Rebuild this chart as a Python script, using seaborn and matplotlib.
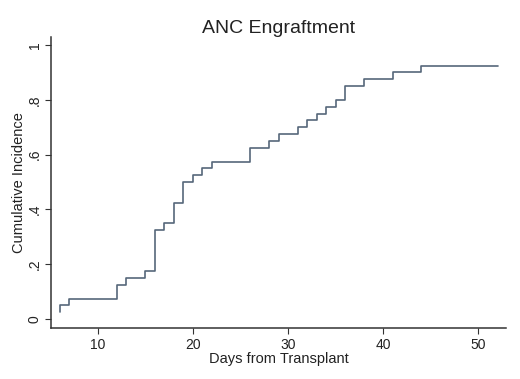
import pandas as pd
import matplotlib
matplotlib.use("Agg")
import matplotlib.pyplot as plt
import seaborn as sns

# --- DATA ---
days = [6, 6, 7, 12, 13, 15, 16, 17, 18, 19, 20, 21, 22, 26, 28, 29, 31,
        32, 33, 34, 35, 36, 38, 41, 44, 52]
cum_inc = [0.025, 0.05, 0.075, 0.125, 0.15, 0.175, 0.325, 0.35, 0.425, 0.5,
           0.525, 0.55, 0.575, 0.625, 0.65, 0.675, 0.70, 0.725, 0.75, 0.775,
           0.80, 0.85, 0.875, 0.90, 0.925, 0.925]
x_ticks = [10, 20, 30, 40, 50]
y_ticks = [0, 0.2, 0.4, 0.6, 0.8, 1.0]
y_tick_labels = ["0", ".2", ".4", ".6", ".8", "1"]

df = pd.DataFrame({"days": days, "ci": cum_inc})

sns.set_style("white")
plt.rcParams["font.family"] = ["Liberation Sans", "DejaVu Sans"]

fig = plt.figure(figsize=(5.2, 3.79), dpi=100)
ax = fig.add_axes([0.099, 0.135, 0.875, 0.767])

sns.lineplot(data=df, x="days", y="ci", estimator=None, sort=False,
             drawstyle="steps-post", color="#56677a", linewidth=1.2, ax=ax)

ax.set_xlim(5.14, 52.94)
ax.set_ylim(-0.032, 1.029)
ax.set_xticks(x_ticks)
ax.set_yticks(y_ticks)
ax.set_yticklabels(y_tick_labels, rotation=90, va="center")

ax.set_title("ANC Engraftment", fontsize=14, color="#222222", pad=3)
ax.set_xlabel("Days from Transplant", fontsize=10.5, color="#222222", labelpad=0)
ax.set_ylabel("Cumulative Incidence", fontsize=10.5, color="#222222", labelpad=1)

for side in ["top", "right"]:
    ax.spines[side].set_visible(False)
for side in ["left", "bottom"]:
    ax.spines[side].set_color("#333333")
    ax.spines[side].set_linewidth(1.1)

ax.tick_params(axis="both", direction="out", length=4, width=0.8,
               bottom=True, left=True,
               color="#333333", labelsize=10, labelcolor="#222222", pad=3)

fig.savefig("out.png", dpi=100, facecolor="white")
